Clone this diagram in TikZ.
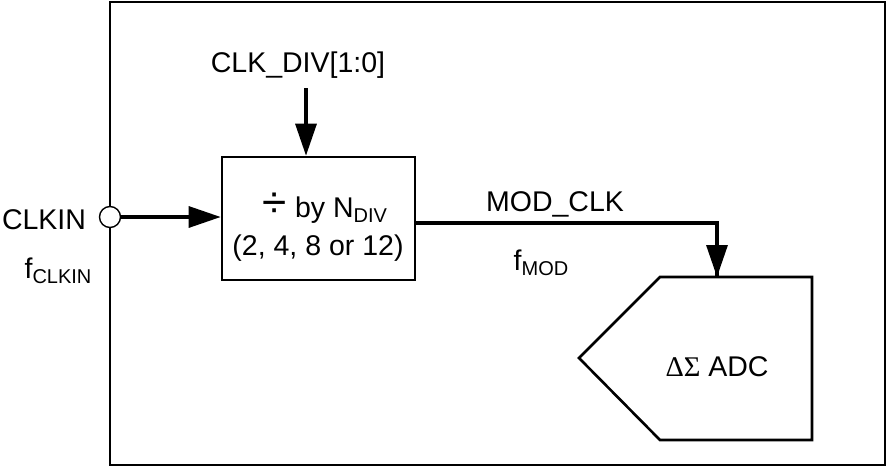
\documentclass[tikz,border=0pt]{standalone}
\usepackage{fontspec}
\setmainfont{Liberation Sans}
\newfontfamily\greekfont{Liberation Serif}
\usetikzlibrary{arrows.meta}
\newcommand{\mysub}[1]{\raisebox{-5.5pt}{\fontsize{20}{22}\selectfont #1}}
\tikzset{
  lbl/.style={font=\fontsize{28.5}{33}\selectfont, inner sep=0pt},
  blk/.style={draw, line width=2.6pt, fill=white, inner sep=0pt},
  wire/.style={line width=3.2pt},
  arr/.style={wire, -{Triangle[length=32pt,width=21pt]}},
}
\begin{document}
\begin{tikzpicture}[x=1pt,y=-1pt]
\useasboundingbox (0,0) rectangle (887,471);
% outer box
\node[blk, minimum width=775pt, minimum height=463pt] (outer) at (497.5,233.5) {};
% divider block
\node[blk, minimum width=193pt, minimum height=123pt] (div) at (318.5,218.5) {};
\node[lbl] (divt1) at (325,208) {{\fontsize{44}{44}\selectfont ÷} by N\mysub{DIV}};
\node[lbl] (divt2) at (318,248) {(2, 4, 8 or 12)};
% ADC
\coordinate (adctip) at (579,358);
\coordinate (adctl) at (660,277);
\coordinate (adctr) at (812,277);
\coordinate (adcbr) at (812,440);
\coordinate (adcbl) at (660,440);
\draw[blk, line join=miter] (adctip) -- (adctl) -- (adctr) -- (adcbr) -- (adcbl) -- cycle;
\coordinate (adcin) at (717,277);
\node[lbl] (adct) at (717,367) {{\greekfont ΔΣ} ADC};
% CLKIN pin
\node[draw, circle, line width=1.4pt, fill=white, minimum size=21pt, inner sep=0pt] (pin) at (110,217) {};
\node[lbl] (clkin) at (44,220) {CLKIN};
\node[lbl] (fclkin) at (58,271) {f\mysub{CLKIN}};
\draw[arr] (pin.east) -- (div.west |- pin.east);
% CLK_DIV
\node[lbl] (clkdiv) at (298,65) {CLK\_DIV[1:0]};
\coordinate (cdstart) at (306,88);
\draw[arr] (cdstart) -- (cdstart |- div.north);
% MOD_CLK
\coordinate (modout) at (415,223);
\coordinate (modcorner) at (717,223);
\draw[wire, line join=miter] (modout) -- (modcorner) -- (adcin);
\draw[arr] (modcorner) -- (adcin);
\node[lbl] (modclk) at (555,204) {MOD\_CLK};
\node[lbl] (fmod) at (541,263) {f\mysub{MOD}};
\end{tikzpicture}
\end{document}
